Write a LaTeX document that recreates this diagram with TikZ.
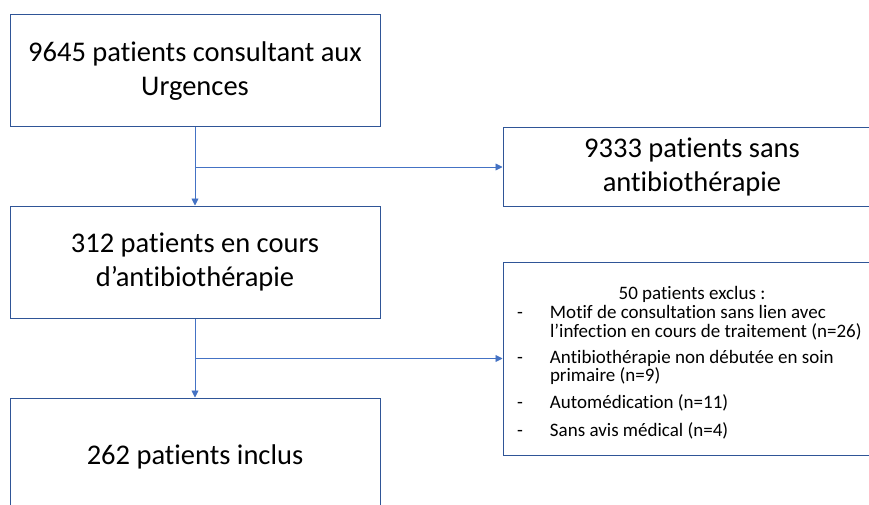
\documentclass[tikz,border=0pt]{standalone}
\usepackage{fontspec}
\setmainfont{Carlito}[Ligatures={NoCommon}]
\usetikzlibrary{arrows.meta}

\definecolor{boxblue}{HTML}{2F5597}
\definecolor{lineblue}{HTML}{4472C4}
\newcommand{\tiret}[2][9pt]{\par\vspace{#1}\noindent\hspace*{4pt}\makebox[33pt][l]{-}\parbox[t]{321pt}{#2}}

\begin{document}
\begin{tikzpicture}[x=1pt,y=-1pt,
        boite/.style={draw=boxblue,line width=1pt,fill=white,minimum width=370pt,minimum height=112pt,
            align=center,inner sep=0pt,font=\fontsize{28.5}{34.5}\selectfont},
        fleche/.style={draw=lineblue,line width=0.9pt,-{Triangle[length=7pt,width=7pt]}}]
        % Background
        \useasboundingbox (0,0) rectangle (869,505);
        \clip (0,0) rectangle (869,505);
        \fill[white] (0,0) rectangle (869,505);

        % Main column
        \node[boite] (urgences) at (195,71) {9645 patients consultant aux\\Urgences};
        \node[boite] (encours) at (195,262) {312 patients en cours\\d’antibiothérapie};
        \node[boite,minimum height=118pt] (inclus) at (195,457) {262 patients inclus};

        % Side boxes
        \node[boite,minimum width=378pt,minimum height=78pt] (sansab) at (692,167) {9333 patients sans\\antibiothérapie};
        \node[boite,minimum width=378pt,minimum height=193pt,font=\fontsize{19}{18.5}\selectfont] (exclus) at (692,358.5) {%
            \begin{minipage}{358pt}
                \vspace*{8pt}
                \centering 50 patients exclus :\par\raggedright
                \tiret[1pt]{Motif de consultation sans lien avec\\l’infection en cours de traitement (n=26)}
                \tiret{Antibiothérapie non débutée en soin\\primaire (n=9)}
                \tiret{Automédication (n=11)}
                \tiret{Sans avis médical (n=4)}
            \end{minipage}};

        % Arrows
        \draw[fleche] (urgences) -- (encours);
        \draw[fleche] (encours) -- (inclus);
        \draw[fleche] (urgences.south |- sansab.west) -- (sansab.west);
        \draw[fleche] (encours.south |- exclus.west) -- (exclus.west);

    \end{tikzpicture}
\end{document}
